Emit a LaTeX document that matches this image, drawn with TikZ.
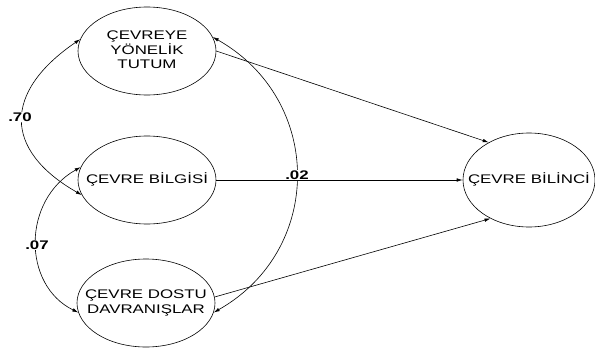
\documentclass[tikz,border=0pt]{standalone}
\usepackage{fontspec}
\setmainfont{Liberation Sans}[FakeStretch=1.35]
\usetikzlibrary{shapes.geometric,arrows.meta}
\newcommand\ztext[1]{\makebox[0pt]{\begin{tabular}{@{}c@{}}#1\end{tabular}}}
\begin{document}
\begin{tikzpicture}[x=1pt,y=-1pt,
  lat/.style={draw, ellipse, inner sep=0pt, line width=0.6pt, font=\fontsize{12.5}{14.5}\selectfont},
  tip/.style={},
  conn/.style={line width=0.6pt, -{Latex[length=6pt,width=3.5pt]}},
  cov/.style={line width=0.6pt, {Latex[length=6pt,width=3.5pt]}-{Latex[length=6pt,width=3.5pt]}},
  coef/.style={fill=white, inner sep=1pt, font=\bfseries\fontsize{12.5}{14.5}\selectfont}]
\useasboundingbox (0,0) rectangle (595,348);
\node[lat, minimum width=138pt, minimum height=88pt] (A) at (147,51) {\ztext{ÇEVREYE\\YÖNELİK\\TUTUM}};
\node[lat, minimum width=138pt, minimum height=88pt] (B) at (147,180) {\ztext{ÇEVRE BİLGİSİ}};
\node[lat, minimum width=138pt, minimum height=88pt] (C) at (146,303) {\ztext{ÇEVRE DOSTU\\DAVRANIŞLAR}};
\node[lat, minimum width=132pt, minimum height=94pt] (D) at (529,180) {\ztext{ÇEVRE BİLİNCİ}};
% paths
\draw[conn] (A.east) -- (D.137);
\draw[conn] (B.east) -- (D.west);
\draw[conn] (C.5) -- (D.225);
% covariances
\draw[cov] (A.170) .. controls (3,92) and (3,150) .. (B.193);
\draw[cov] (B.169) .. controls (22,200) and (22,285) .. (C.188);
\draw[cov] (A.12) .. controls (324,100) and (324,250) .. (C.-8);
% coefficients
\node[coef] (k1) at (20,117) {.70};
\node[coef] (k2) at (37,245) {.07};
\node[coef] (k3) at (297,175) {.02};
\end{tikzpicture}
\end{document}
